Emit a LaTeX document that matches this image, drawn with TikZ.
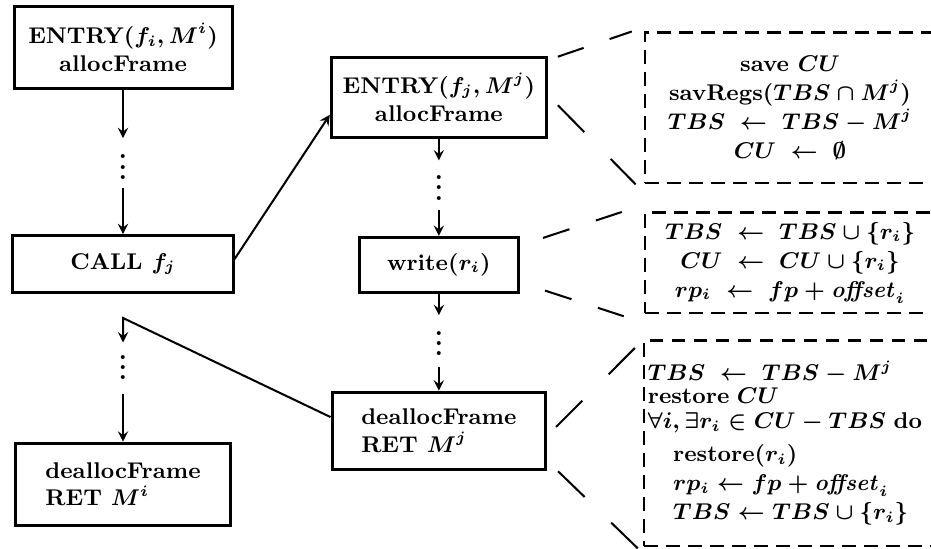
\documentclass[tikz,border=0pt]{standalone}
\usepackage{tikz}
\usepgflibrary{arrows}

\tikzset{
  box/.style={draw, very thick, inner sep=0pt, align=center, font=\fontsize{9}{11}\selectfont\bfseries\boldmath},
  dbox/.style={draw, line width=1pt, dash pattern=on 5.5pt off 3.2pt, inner sep=0pt, font=\fontsize{9}{11.5}\selectfont\bfseries\boldmath},
  proj/.style={thick, dash pattern=on #1 off #1},
  vdot/.style={inner sep=0pt, anchor=base, font=\bfseries}
}

\begin{document}
\begin{tikzpicture}

\useasboundingbox (0,0) rectangle (12.94,7.62);

\node [box, minimum width=3.03cm, minimum height=1.13cm] (ei) at (1.71,6.96) {ENTRY$(f_i,M^i)$\\allocFrame};
\node [box, minimum width=3.06cm, minimum height=0.79cm] (call) at (1.71,3.95) {CALL $f_j$};
\node [box, align=left, minimum width=3.00cm, minimum height=1.14cm] (dl) at (1.71,0.89) {deallocFrame\\RET $M^i$};

\node [box, minimum width=2.99cm, minimum height=1.11cm] (ej) at (6.10,6.27) {ENTRY$(f_j,M^j)$\\allocFrame};
\node [box, minimum width=2.22cm, minimum height=0.76cm] (wr) at (6.10,3.94) {write$(r_i)$};
\node [box, align=left, minimum width=2.97cm, minimum height=1.08cm] (dm) at (6.10,1.63) {deallocFrame\\RET $M^j$};

\node [dbox, align=center, minimum width=4.03cm, minimum height=2.09cm] (db1) at (10.98,6.12)
  {save $CU$\\savRegs$(TBS\cap M^j)$\\$TBS\;\leftarrow\;TBS-M^j$\\$CU\;\leftarrow\;\emptyset$};
\node [dbox, align=center, minimum width=4.03cm, minimum height=1.40cm] (db2) at (10.98,3.97)
  {$TBS\;\leftarrow\;TBS\cup\{r_i\}$\\$CU\;\leftarrow\;CU\cup\{r_i\}$\\$rp_i\;\leftarrow\;fp+\mathit{offset}_i$};
\node [dbox, align=left, text width=3.95cm, inner xsep=1.5pt, minimum height=2.86cm] (db3) at (10.98,1.46)
  {$TBS\;\leftarrow\;TBS-M^j$\\[-2.5pt]restore $CU$\\[-1.5pt]$\forall i,\exists r_i\in CU-TBS$ do\\[1.5pt]
   \hspace*{10pt}restore$(r_i)$\\\hspace*{10pt}$rp_i\leftarrow fp+\mathit{offset}_i$\\\hspace*{10pt}$TBS\leftarrow TBS\cup\{r_i\}$};

\coordinate (a1) at (1.71,5.70);
\coordinate (a2) at (1.71,5.00);
\node [vdot] (d1) at (1.71,5.13) {$\vdots$};
\draw [thick, -stealth] (ei) -- (a1);
\draw [thick, -stealth] (a2) -- (call);

\coordinate (b1) at (6.10,5.39);
\coordinate (b2) at (6.10,4.70);
\node [vdot] (d3) at (6.10,4.84) {$\vdots$};
\draw [thick, -stealth] (ej) -- (b1);
\draw [thick, -stealth] (b2) -- (wr);

\coordinate (c1) at (6.10,3.24);
\coordinate (c2) at (6.10,2.52);
\node [vdot] (d4) at (6.10,2.68) {$\vdots$};
\draw [thick, -stealth] (wr) -- (c1);
\draw [thick, -stealth] (c2) -- (dm);

\coordinate (r) at (1.71,3.20);
\coordinate (r1) at (1.71,2.86);
\coordinate (r2) at (1.71,2.15);
\node [vdot] (d2) at (1.71,2.34) {$\vdots$};
\draw [thick, -stealth] ([yshift=5.5pt]dm.west) -- (r) -- (r1);
\draw [thick, -stealth] (r2) -- (dl);

\draw [thick, -stealth] ([yshift=2pt]call.east) -- ([yshift=-7pt]ej.west);

\draw [proj=10.8pt] ([shift={(3.9pt,-0.4pt)}]ej.north east) -- ([xshift=-4.7pt]db1.north west);
\draw [proj=14.9pt] ([shift={(3.9pt,-3.2pt)}]ej.east) -- ([xshift=-3.2pt]db1.south west);
\draw [proj=11pt] ([shift={(9pt,-0.8pt)}]wr.north east) -- ([shift={(-8.7pt,-0.4pt)}]db2.north west);
\draw [proj=11pt] ([shift={(9.8pt,1.2pt)}]wr.south east) -- ([shift={(-7.9pt,-0.8pt)}]db2.south west);
\draw [proj=14.7pt] ([shift={(3.5pt,1.6pt)}]dm.east) -- ([shift={(-2.8pt,-3.2pt)}]db3.north west);
\draw [proj=14.6pt] ([xshift=4.3pt]dm.south east) -- ([shift={(-2pt,-0.4pt)}]db3.south west);

\end{tikzpicture}
\end{document}
